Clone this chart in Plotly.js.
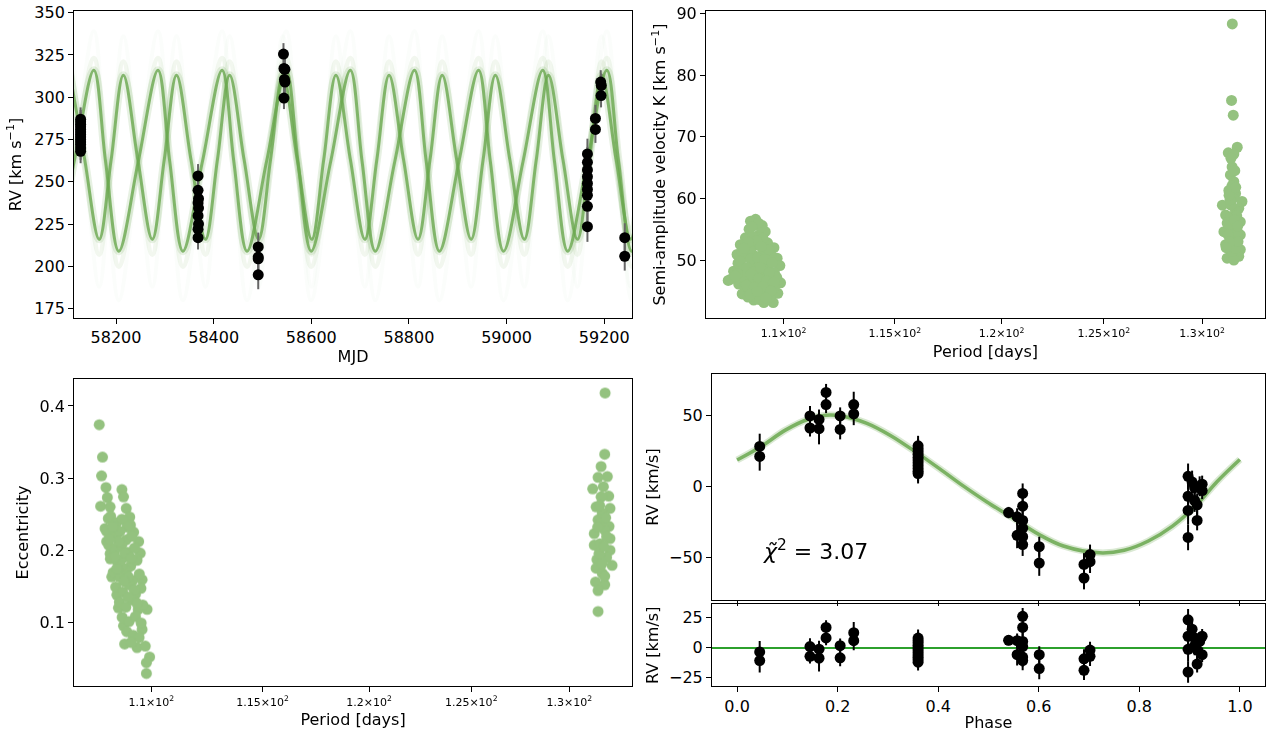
<!DOCTYPE html>
<html><head><meta charset="utf-8">
<script src="https://cdn.plot.ly/plotly-3.0.1.min.js"></script>
<style>html,body{margin:0;padding:0;background:#fff}#chart{width:1272px;height:732px}</style>
</head><body><div id="chart"></div>
<script>
// ---------- Panel 1: RV vs MJD ----------
const mjdObs = [58127.5,58127.5,58127.5,58127.5,58127.5,58127.5,58127.5,58127.5,58127.5,58127.5,58127.5,58127.5,58127.5,
  58368,58368,58369,58368,58369,58368,58369,58368,58368,
  58491.3,58491.3,58491.3,58491.3,
  58543,58544,58546,58545,58546,58544,
  59165.6,59165.6,59165.6,59165.6,59165.6,59165.6,59165.6,59165.6,59165.6,
  59182,59182,
  59192.8,59194,59193.5,
  59242,59242];
const rvObs = [287,285.5,284,282.5,281,279.5,278,276.5,275,273.5,272,270,268,
  253.5,245,240,237.5,234.5,230,225,222,217,
  211.5,205.5,204.5,195,
  325.5,317,316.5,310.5,309,299.5,
  266.5,261.5,257,253,249,245.5,242,235.5,223.5,
  287.5,281,
  309,307,301,
  217,206];
const rvObsErr = [7,7,7,7,7,7,7,7,7,7,7,7,7,
  7,7,7,7,7,7,7,7,7,
  8.5,8.5,8.5,8.5,
  6.5,6.5,6.5,6.5,6.5,6.5,
  9,9,9,9,9,9,9,9,9,
  8,8,
  7,7,7,
  8.5,8.5];

// model solution with P ~ 108.8 d (key points: peak, descending node, trough, ascending node)
const modelB_mjd = [58106.2,58135.9,58165.5,58190.0,
  58215.0,58244.7,58274.3,58298.8,
  58323.9,58353.6,58383.2,58407.7,
  58432.7,58462.4,58492.0,58516.5,
  58541.6,58571.3,58600.9,58625.4,
  58650.4,58680.1,58709.7,58734.2,
  58759.3,58789.0,58818.6,58843.1,
  58868.1,58897.8,58927.4,58951.9,
  58977.0,59006.7,59036.3,59060.8,
  59085.8,59115.5,59145.1,59169.6,
  59194.7,59224.4,59254.0,59278.5,
  59303.5];
const modelB_rv = [313,263,216,263, 313,263,216,263, 313,263,216,263, 313,263,216,263,
  313,263,216,263, 313,263,216,263, 313,263,216,263, 313,263,216,263,
  313,263,216,263, 313,263,216,263, 313,263,216,263, 313];
const modelB_rvWide = [321,263,207,263, 321,263,207,263, 321,263,207,263, 321,263,207,263,
  321,263,207,263, 321,263,207,263, 321,263,207,263, 321,263,207,263,
  321,263,207,263, 321,263,207,263, 321,263,207,263, 321];
const modelB_rvTail = [336,263,188,263, 336,263,188,263, 336,263,188,263, 336,263,188,263,
  336,263,188,263, 336,263,188,263, 336,263,188,263, 336,263,188,263,
  336,263,188,263, 336,263,188,263, 336,263,188,263, 336];
// model solution with P ~ 131.4 d
const modelA_mjd = [58023.3,58047.3,58074.3,58114.3,
  58154.6,58178.6,58205.6,58245.6,
  58286.0,58310.0,58337.0,58377.0,
  58417.3,58441.3,58468.3,58508.3,
  58548.7,58572.7,58599.7,58639.7,
  58680.0,58704.0,58731.0,58771.0,
  58811.4,58835.4,58862.4,58902.4,
  58942.7,58966.7,58993.7,59033.7,
  59074.1,59098.1,59125.1,59165.1,
  59205.4,59229.4,59256.4,59296.4,
  59336.8];
const modelA_rv = [316,262,209,262, 316,262,209,262, 316,262,209,262, 316,262,209,262,
  316,262,209,262, 316,262,209,262, 316,262,209,262, 316,262,209,262,
  316,262,209,262, 316,262,209,262, 316];
const modelA_rvWide = [323,262,200,262, 323,262,200,262, 323,262,200,262, 323,262,200,262,
  323,262,200,262, 323,262,200,262, 323,262,200,262, 323,262,200,262,
  323,262,200,262, 323,262,200,262, 323];
const modelA_rvTail = [339,262,180,262, 339,262,180,262, 339,262,180,262, 339,262,180,262,
  339,262,180,262, 339,262,180,262, 339,262,180,262, 339,262,180,262,
  339,262,180,262, 339,262,180,262, 339];

// ---------- Panel 2: K vs period ----------
const kPeriod = [108.78,108.56,109.07,109.2,108.34,108.12,107.98,109.58,109.72,109.84,109.87,109.75,109.55,109.14,108.7,108.2,108.05,107.71,107.83,108.02,
  108.5,108.9,108.4,108.8,109.3,108.3,108.7,109.1,109.45,108.25,108.6,108.95,109.3,109.6,108.4,108.75,109.1,109.45,108.5,108.9,109.3,108.7,109.05,108.45,108.85,108.95,108.6,109.2,108.3,109.6,108.15,109.0,108.65,109.1,108.9,109.35,108.55,108.2,109.7,108.95,109.4,107.6,
  108.62,108.83,108.47,109.02,108.28,108.58,108.87,109.19,109.5,108.13,108.4,108.7,109.0,109.38,108.27,108.58,108.9,109.25,109.58,108.38,108.73,109.1,109.45,108.55,108.85,109.23,108.0,107.9,
  131.53,131.62,131.83,131.36,131.65,131.56,131.47,131.65,131.39,131.74,131.05,132.08,131.91,131.22,131.99,131.13,131.99,131.22,131.99,131.30,131.91,131.65,131.47,131.56,131.65,131.47,131.74,131.39,131.83,131.56,131.74,131.5,131.35,131.87,131.57,131.6,131.45,131.7,131.5,
  131.3,131.8,131.42,131.68,131.25,131.85,131.55,131.4,131.75];
const kValue = [56.6,56.3,55.6,54.6,53.6,52.5,50.9,52.0,50.3,49.1,46.3,44.6,43.1,43.1,43.5,44.5,46.1,46.9,48.2,49.5,
  55,54,52,52.5,52.8,50.5,50.8,51,50.8,48.5,49,49.3,49,48,47,47.5,47.3,46.8,45.5,45.8,45.2,44.2,44.5,44,48.2,46.5,46.3,48.5,45.8,45.5,47.5,55.3,53.8,53.5,56.0,51.7,51.5,51.3,47.2,43.6,44.0,46.7,
  55.4,53.1,52.9,52.2,51.9,50.2,50.4,50.1,49.6,49.8,48.8,48.1,48.8,47.9,47.2,47.7,47.0,46.6,46.4,45.9,45.6,45.7,45.0,44.4,44.9,43.9,47.8,47.4,
  75.9,73.5,68.3,67.4,67.2,65.1,63.8,62.7,61.3,60.8,58.9,59.5,58.4,57.3,56.2,54.6,54.1,52.5,51.7,50.3,50.6,50.0,57,55.2,53.5,52.5,58,55.7,54.6,51.4,51.9,58.9,54.1,53,88.3,60,59.8,64.5,66.5,
  56.0,57.2,53.0,56.5,52.0,55.5,62.0,60.5,61.8];

// ---------- Panel 3: eccentricity vs period ----------
const ePeriod = [107.73,107.87,107.83,108.02,108.08,107.79,108.71,108.78,108.9,109.05,109.08,108.2,108.12,107.98,109.22,109.44,109.51,108.2,108.05,109.59,108.27,108.49,109.81,108.56,108.78,109.59,108.83,109.37,109.73,109.92,109.78,109.78,
  108.22,108.48,108.71,108.93,108.05,108.36,108.62,108.88,109.12,108.14,108.42,108.69,108.97,109.26,108.21,108.53,108.8,109.09,109.37,108.33,108.61,108.9,109.18,109.47,108.44,108.74,109.02,109.3,109.54,108.6,108.88,109.16,109.42,108.72,109.02,109.3,109.55,108.92,109.2,109.46,109.1,109.62,108.29,108.57,108.83,109.11,108.67,108.99,109.24,108.79,108.48,109.35,108.97,108.16,108.4,
  131.87,131.85,131.66,131.99,131.5,131.22,132.06,132.13,131.4,131.5,132.08,131.3,132.13,131.3,132.13,131.44,132.24,131.4,131.37,131.85,131.5,131.5,
  131.72,131.85,131.6,131.95,131.72,131.66,131.78,131.65,131.95,131.55,131.85,131.58,131.9,131.7,131.48,131.8];
const eValue = [0.374,0.329,0.303,0.287,0.273,0.261,0.284,0.274,0.258,0.246,0.235,0.26,0.244,0.23,0.225,0.212,0.196,0.195,0.212,0.159,0.163,0.138,0.118,0.12,0.095,0.09,0.07,0.065,0.067,0.052,0.044,0.029,
  0.247,0.238,0.243,0.232,0.226,0.221,0.226,0.214,0.219,0.207,0.201,0.206,0.197,0.203,0.188,0.183,0.19,0.178,0.186,0.169,0.163,0.171,0.158,0.167,0.149,0.142,0.152,0.139,0.147,0.128,0.121,0.131,0.118,0.107,0.101,0.108,0.099,0.087,0.082,0.079,0.072,0.124,0.232,0.212,0.196,0.189,0.178,0.163,0.145,0.157,0.174,0.127,0.135,0.215,0.191,
  0.418,0.333,0.316,0.302,0.301,0.285,0.275,0.258,0.26,0.242,0.233,0.223,0.216,0.207,0.2,0.187,0.179,0.175,0.156,0.152,0.144,0.115,
  0.251,0.228,0.209,0.19,0.168,0.274,0.288,0.238,0.219,0.195,0.164,0.262,0.245,0.181,0.232,0.205];

// ---------- Panel 4: phase-folded RV ----------
const phaseObs = [0.045,0.045, 0.145,0.145, 0.163,0.163, 0.177,0.177, 0.205,0.205, 0.232,0.232,
  0.36,0.36,0.36,0.36,0.36,0.36,0.36,0.36,0.36,0.36,0.36,
  0.54, 0.557,0.557, 0.568,0.568,0.568,0.568,0.568,0.568,
  0.601,0.601, 0.69,0.69, 0.702,0.702,
  0.897,0.897,0.897,0.897, 0.905, 0.91,0.91, 0.915,0.915, 0.92, 0.925,0.925];
const rvPhase = [28,21, 49.5,41, 47,40.5, 66,57.5, 49.5,40, 57.5,51,
  28.5,26.5,24.5,22.5,20.5,18.5,16.5,14.5,12.5,10.5,9,
  -18.5, -21.5,-34.5, -5,-14,-24,-29.5,-35.5,-41,
  -42.5,-54, -55,-64.5, -48,-53,
  7,-7,-17,-36, 3, -1,-10, -13,-24, 0, 1.5,-3];
const rvPhaseErr = [9,10, 7,6, 7,11, 6,6, 6,7, 9,8,
  7,7,7,7,7,7,7,7,7,7,7,
  4, 6,9, 7,7,8,8,8,8,
  7,9, 8,8, 7,8,
  9,9,10,9, 8, 7,8, 8,7, 7, 6,6];
const rvResid = [-3.5,-10.7, 0.9,-7.2, -1.2,-8.7, 16.8,8.1, 1.7,-8.4, 12.4,5.8,
  8,6,4,2,0,-2,-4,-6,-8,-10,-12,
  6.1, 5.8,-5.8, 26,16.8,5.2,0.9,-7.8,-10.7,
  -5.8,-17.3, -9.2,-18.8, -2,-7.2,
  23.1,9.5,-1.4,-20.2, 15.3, 8.1,1.7, -2,-13.6, 5.2, 9.5,-5.8];
const modelPhase = [0,0.048,0.096,0.144,0.176,0.208,0.257,0.305,0.36,0.41,0.449,0.497,0.545,0.601,0.649,0.721,0.77,0.818,0.866,0.914,0.954,1.0];
const modelPhaseRv = [18.5,28,39.5,47.5,50,49.5,44.5,35.8,23,10.5,0.5,-11,-21.5,-34,-42,-46.8,-45,-38.5,-28,-13,3,18.8];
const chi2Label = '<i>χ̃</i><sup>2</sup> = 3.07';
const periodTicks = [110,115,120,125,130];
const periodTickText = ['1.1×10<sup>2</sup>','1.15×10<sup>2</sup>','1.2×10<sup>2</sup>','1.25×10<sup>2</sup>','1.3×10<sup>2</sup>'];

// ---------- styling ----------
const GREEN = 'rgb(106,168,79)';
const FONT = 'DejaVu Sans, sans-serif';
const traces = [];
function curve(x, y, w, o) {
  traces.push({x:x, y:y, xaxis:'x', yaxis:'y', type:'scatter', mode:'lines',
    line:{color:GREEN, width:w, shape:'spline', smoothing:1}, opacity:o, hoverinfo:'skip', showlegend:false});
}
curve(modelA_mjd, modelA_rvTail, 4, 0.025);
curve(modelB_mjd, modelB_rvTail, 4, 0.025);
curve(modelA_mjd, modelA_rvWide, 5, 0.09);
curve(modelB_mjd, modelB_rvWide, 5, 0.09);
curve(modelA_mjd, modelA_rv, 8, 0.16);
curve(modelB_mjd, modelB_rv, 8, 0.16);
curve(modelA_mjd, modelA_rv, 3, 0.8);
curve(modelB_mjd, modelB_rv, 3, 0.8);
traces.push({x:mjdObs, y:rvObs, xaxis:'x', yaxis:'y', type:'scatter', mode:'markers',
  marker:{color:'black', size:11}, error_y:{type:'data', array:rvObsErr, color:'#666', thickness:2, width:0}, showlegend:false});

traces.push({x:kPeriod, y:kValue, xaxis:'x2', yaxis:'y2', type:'scatter', mode:'markers',
  marker:{color:'#8fbf79', size:11, line:{width:0}}, opacity:0.95, showlegend:false});
traces.push({x:ePeriod, y:eValue, xaxis:'x3', yaxis:'y3', type:'scatter', mode:'markers',
  marker:{color:'#8fbf79', size:11, line:{width:0}}, opacity:0.95, showlegend:false});

traces.push({x:modelPhase, y:modelPhaseRv, xaxis:'x4', yaxis:'y4', type:'scatter', mode:'lines',
  line:{color:GREEN, width:7, shape:'spline', smoothing:1}, opacity:0.25, showlegend:false});
traces.push({x:modelPhase, y:modelPhaseRv, xaxis:'x4', yaxis:'y4', type:'scatter', mode:'lines',
  line:{color:GREEN, width:3.5, shape:'spline', smoothing:1}, opacity:0.85, showlegend:false});
traces.push({x:phaseObs, y:rvPhase, xaxis:'x4', yaxis:'y4', type:'scatter', mode:'markers',
  marker:{color:'black', size:11}, error_y:{type:'data', array:rvPhaseErr, color:'black', thickness:2, width:0}, showlegend:false});
traces.push({x:phaseObs, y:rvResid, xaxis:'x5', yaxis:'y5', type:'scatter', mode:'markers',
  marker:{color:'black', size:11}, error_y:{type:'data', array:rvPhaseErr, color:'black', thickness:2, width:0}, showlegend:false});

const base = {showline:true, mirror:true, linecolor:'black', linewidth:1, ticks:'outside', ticklen:5, tickwidth:1,
  tickcolor:'black', showgrid:false, zeroline:false, automargin:false, tickfont:{family:FONT, size:16, color:'black'}};
function ax(o) { return Object.assign({}, base, o); }
function ttl(t, s) { return {text:t, font:{family:FONT, size:16, color:'black'}, standoff:s}; }

const layout = {
  width:1272, height:732, margin:{l:0, r:0, t:0, b:0}, paper_bgcolor:'white', plot_bgcolor:'white',
  showlegend:false, font:{family:FONT, color:'black'},
  xaxis: ax({domain:[0.0582,0.4969], anchor:'y', range:[58114,59257], tickmode:'linear', tick0:58000, dtick:200, tickformat:'d', title:ttl('MJD',4)}),
  yaxis: ax({domain:[0.5656,0.985], anchor:'x', range:[169.5,351], tickmode:'linear', tick0:0, dtick:25, title:ttl('RV [km s<sup>−1</sup>]',8)}),
  xaxis2: ax({domain:[0.555,0.9945], anchor:'y2', type:'log', range:[2.02796,2.12483], tickmode:'array', tickvals:periodTicks, ticktext:periodTickText,
    tickfont:{family:FONT, size:11, color:'black'}, title:ttl('Period [days]',6)}),
  yaxis2: ax({domain:[0.5656,0.985], anchor:'x2', range:[40.6,90.4], tickmode:'linear', tick0:0, dtick:10, title:ttl('Semi-amplitude velocity K [km s<sup>−1</sup>]',6)}),
  xaxis3: ax({domain:[0.0582,0.4969], anchor:'y3', type:'log', range:[2.02796,2.12483], tickmode:'array', tickvals:periodTicks, ticktext:periodTickText,
    tickfont:{family:FONT, size:11, color:'black'}, title:ttl('Period [days]',6)}),
  yaxis3: ax({domain:[0.0622,0.4829], anchor:'x3', range:[0.011,0.438], tickmode:'linear', tick0:0, dtick:0.1, tickformat:'.1f', title:ttl('Eccentricity',6)}),
  xaxis4: ax({domain:[0.5597,0.9945], anchor:'y4', range:[-0.05,1.05], tickmode:'linear', tick0:0, dtick:0.2, showticklabels:false}),
  yaxis4: ax({domain:[0.1803,0.4891], anchor:'x4', range:[-80,79], tickmode:'array', tickvals:[-50,0,50], ticktext:['−50','0','50'], title:ttl('RV [km/s]',6)}),
  xaxis5: ax({domain:[0.5597,0.9945], anchor:'y5', range:[-0.05,1.05], tickmode:'linear', tick0:0, dtick:0.2, tickformat:'.1f', title:ttl('Phase',4)}),
  yaxis5: ax({domain:[0.0622,0.1749], anchor:'x5', range:[-32.2,36.3], tickmode:'array', tickvals:[-25,0,25], ticktext:['−25','0','25'],
    zeroline:true, zerolinecolor:'#2ca02c', zerolinewidth:2, title:ttl('RV [km/s]',6)}),
  annotations:[{text:chi2Label, xref:'x4', yref:'y4', x:0.048, y:-45, xanchor:'left', yanchor:'middle', showarrow:false,
    font:{family:FONT, size:22, color:'black'}}]
};
Plotly.newPlot('chart', traces, layout, {staticPlot:true, displayModeBar:false});
</script></body></html>
